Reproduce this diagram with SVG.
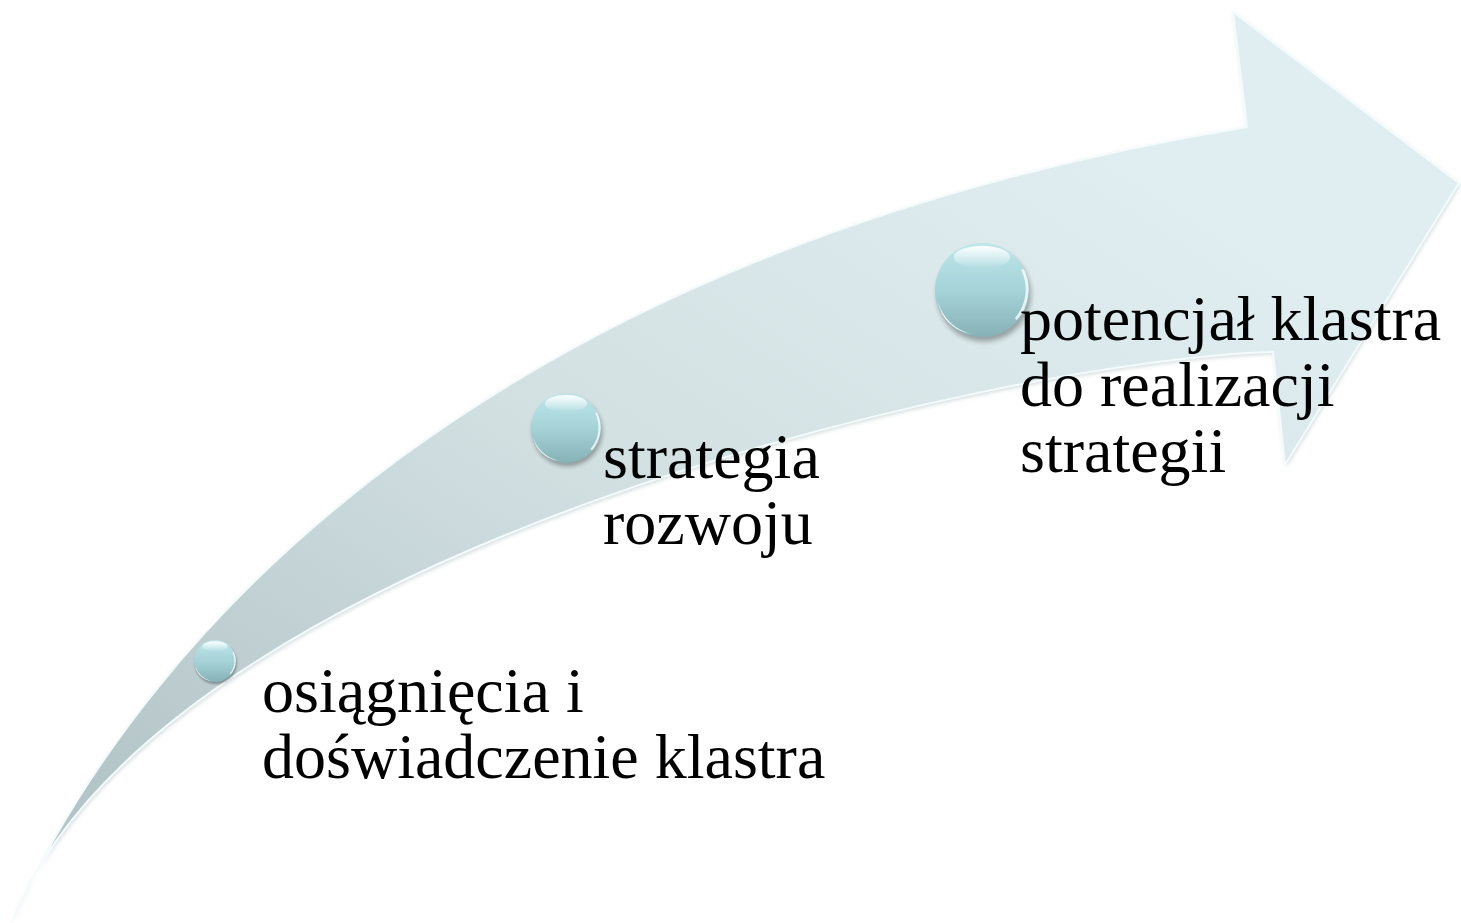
<svg xmlns="http://www.w3.org/2000/svg" width="1461" height="923" viewBox="0 0 1461 923">
<style>
.lbl{font-family:"Liberation Serif","Times New Roman",serif;font-size:64px;fill:#000}
</style>
<defs>
<linearGradient id="arrowGrad" gradientUnits="userSpaceOnUse" x1="900" y1="0" x2="300" y2="923">
<stop offset="0" stop-color="#e0eef1"/>
<stop offset="0.5" stop-color="#d2e0e2"/>
<stop offset="1" stop-color="#b4c5c8"/>
</linearGradient>
<linearGradient id="bubbleGrad" x1="0" y1="0" x2="0" y2="1">
<stop offset="0" stop-color="#bde6ea"/>
<stop offset="0.5" stop-color="#a6d3d8"/>
<stop offset="1" stop-color="#86b2b7"/>
</linearGradient>
<linearGradient id="hlGrad" x1="0" y1="0" x2="0" y2="1">
<stop offset="0" stop-color="#fff" stop-opacity="0.95"/>
<stop offset="1" stop-color="#fff" stop-opacity="0"/>
</linearGradient>
<filter id="shadow" x="-50%" y="-50%" width="200%" height="200%">
<feGaussianBlur stdDeviation="3"/>
</filter>
<filter id="arrowShadow" x="-5%" y="-5%" width="110%" height="110%">
<feGaussianBlur stdDeviation="2"/>
</filter>
<g id="bubble">
<circle cx="2" cy="5" r="50" fill="#000" opacity="0.3" filter="url(#shadow)"/>
<circle cx="0" cy="0" r="50" fill="url(#bubbleGrad)"/>
<ellipse cx="0" cy="-35" rx="30" ry="12" fill="url(#hlGrad)"/>
<path d="M-47,12 A48,48 0 0 0 -10,47 A42,42 0 0 1 -47,12 Z" fill="#fff" opacity="0.9"/>
<path d="M43,-22 A48,48 0 0 1 36,31" fill="none" stroke="#fff" stroke-width="3" opacity="0.75"/>
</g>
</defs>
<g id="arrow">
<path d="M12,921 C150,620 500,250 1247,127 L1233,12 L1459,183 L1285,465 L1273,352 C1000,360 160,550 12,921 Z" fill="#9fb0b3" opacity="0.5" filter="url(#arrowShadow)" transform="translate(1,2)"/>
<path d="M12,921 C150,620 500,250 1247,127 L1233,12 L1459,183 L1285,465 L1273,352 C1000,360 160,550 12,921 Z" fill="url(#arrowGrad)" stroke="#f4fbfc" stroke-width="2" stroke-linejoin="round"/>
</g>
<g id="connectors"></g>
<g id="node1">
<use href="#bubble" transform="translate(215,661) scale(0.42)"/>
<text class="lbl" x="262" y="712">osiągnięcia i</text>
<text class="lbl" x="262" y="778">doświadczenie klastra</text>
</g>
<g id="node2">
<use href="#bubble" transform="translate(566,428) scale(0.7)"/>
<text class="lbl" x="603" y="478">strategia</text>
<text class="lbl" x="603" y="544">rozwoju</text>
</g>
<g id="node3">
<use href="#bubble" transform="translate(982,290) scale(0.94)"/>
<text class="lbl" x="1020" y="340">potencjał klastra</text>
<text class="lbl" x="1020" y="406">do realizacji</text>
<text class="lbl" x="1020" y="472">strategii</text>
</g>
</svg>
